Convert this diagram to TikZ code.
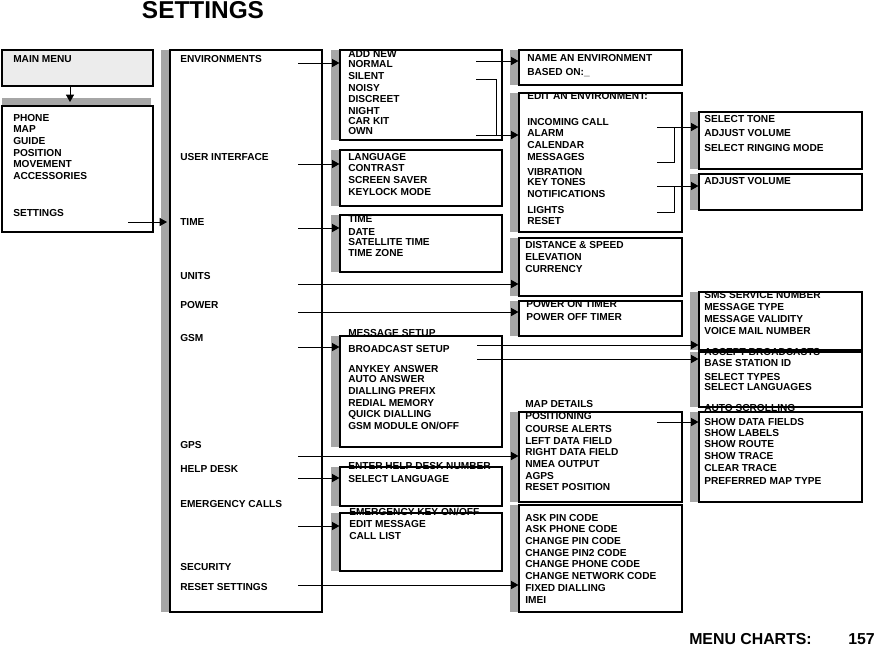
\documentclass[tikz,border=0pt]{standalone}
\usepackage{fontspec}
\setmainfont{Liberation Sans}
\usetikzlibrary{arrows.meta,fit}
\definecolor{barg}{RGB}{166,166,166}
\definecolor{menug}{RGB}{236,236,236}
\tikzset{
  item/.style={anchor=west, inner sep=0pt, font=\fontsize{7.6}{9}\selectfont\bfseries, text height=5.5pt, text depth=0pt},
  box/.style={draw, line width=0.8pt, inner sep=0pt},
  arr/.style={line width=0.75pt, -{Triangle[length=5.5pt,width=6pt]}},
  link/.style={line width=0.75pt},
  headtext/.style={font=\fontsize{18.3}{21}\selectfont\bfseries, inner sep=0pt},
  foottext/.style={font=\fontsize{11.9}{14}\selectfont\bfseries, inner sep=0pt},
}
\newcommand\itemlist[3]{\foreach \yy/\txt [count=\k] in {#3} {\node[item] (#1-\k) at (#2,\yy) {\txt};}}
\newcommand\gbox[5]{\fill[barg] (#2-9.5,#3) rectangle (#2,#5); \node[box, fit={(#2,#3) (#4,#5)}] (#1) {};}
\begin{document}
\begin{tikzpicture}[x=0.75pt,y=-0.75pt]
\useasboundingbox (0,0) rectangle (876,647);
\fill[white] (0,0) rectangle (876,647);
% title and footer
\node[headtext] (title) at (203,10) {SETTINGS};
\node[foottext, anchor=west] (foot) at (689,639) {MENU CHARTS:};
\node[foottext, anchor=east] (page) at (875,639) {157};
% main menu
\node[box, fill=menug, fit={(2,50) (153,86)}] (mm) {};
\node[item] (mmt) at (13,59) {MAIN MENU};
\fill[barg] (2,98) rectangle (151,106);
\node[box, fit={(2,106) (153,232)}] (mlist) {};
\itemlist{ml}{13}{118/PHONE,129/MAP,141/GUIDE,153/POSITION,164/MOVEMENT,176/ACCESSORIES,213/SETTINGS}
% column 2
\gbox{c2}{170}{50}{322}{612}
\itemlist{cc}{180}{59/ENVIRONMENTS,157/USER INTERFACE,222/TIME,276/UNITS,305/POWER,338/GSM,445/GPS,469/HELP DESK,504/EMERGENCY CALLS,567/SECURITY,587/RESET SETTINGS}
% column 3
\gbox{A}{340}{50}{502}{140}
\itemlist{A}{348}{54/ADD NEW,64/NORMAL,76/SILENT,88/NOISY,99/DISCREET,111/NIGHT,121/CAR KIT,131/OWN}
\gbox{B}{340}{150}{502}{206}
\itemlist{B}{348}{157/LANGUAGE,168/CONTRAST,180/SCREEN SAVER,192/KEYLOCK MODE}
\gbox{C}{340}{215}{502}{272}
\itemlist{C}{348}{219/TIME,232/DATE,242/SATELLITE TIME,253/TIME ZONE}
\gbox{D}{340}{336}{502}{447}
\itemlist{D}{348}{333/MESSAGE SETUP,349/BROADCAST SETUP,369/ANYKEY ANSWER,379/AUTO ANSWER,391/DIALLING PREFIX,403/REDIAL MEMORY,414/QUICK DIALLING,426/{GSM MODULE ON/OFF}}
\gbox{E}{340}{467}{502}{506}
\itemlist{E}{348}{466/ENTER HELP DESK NUMBER,479/SELECT LANGUAGE}
\gbox{F}{340}{513}{502}{571}
\itemlist{F}{349}{512/{EMERGENCY KEY ON/OFF},524/EDIT MESSAGE,536/CALL LIST}
% column 4
\gbox{G}{519}{50}{682}{85}
\itemlist{G}{527}{58/NAME AN ENVIRONMENT,72/BASED ON:\_}
\gbox{H}{519}{93}{682}{232}
\itemlist{H}{527}{96/EDIT AN ENVIRONMENT:,122/INCOMING CALL,133/ALARM,145/CALENDAR,157/MESSAGES,172/VIBRATION,182/KEY TONES,194/NOTIFICATIONS,210/LIGHTS,221/RESET}
\gbox{I}{519}{238}{682}{296}
\itemlist{I}{525}{245/DISTANCE \& SPEED,257/ELEVATION,269/CURRENCY}
\gbox{J}{519}{301}{682}{336}
\itemlist{J}{526}{304/POWER ON TIMER,317/POWER OFF TIMER}
\gbox{K}{519}{412}{682}{502}
\itemlist{K}{525}{404/MAP DETAILS,416/POSITIONING,429/COURSE ALERTS,441/LEFT DATA FIELD,452/RIGHT DATA FIELD,464/NMEA OUTPUT,476/AGPS,487/RESET POSITION}
\gbox{L}{519}{505}{682}{612}
\itemlist{L}{525}{518/ASK PIN CODE,529/ASK PHONE CODE,541/CHANGE PIN CODE,553/CHANGE PIN2 CODE,564/CHANGE PHONE CODE,576/CHANGE NETWORK CODE,588/FIXED DIALLING,600/IMEI}
% column 5
\gbox{M}{699}{112}{862}{169}
\itemlist{M}{704}{119/SELECT TONE,133/ADJUST VOLUME,148/SELECT RINGING MODE}
\gbox{N}{699}{174}{862}{210}
\itemlist{N}{704}{181/ADJUST VOLUME}
\gbox{O}{699}{292}{862}{350}
\itemlist{O}{704}{295/SMS SERVICE NUMBER,307/MESSAGE TYPE,319/MESSAGE VALIDITY,331/VOICE MAIL NUMBER}
\gbox{P}{699}{352}{862}{407}
\itemlist{P}{704}{352/ACCEPT BROADCASTS,363/BASE STATION ID,377/SELECT TYPES,387/SELECT LANGUAGES}
\gbox{Q}{699}{412}{862}{502}
\itemlist{Q}{704}{408/AUTO SCROLLING,422/SHOW DATA FIELDS,433/SHOW LABELS,444/SHOW ROUTE,456/SHOW TRACE,468/CLEAR TRACE,481/PREFERRED MAP TYPE}
% connectors: main menu
\coordinate (dn) at (70,102);
\draw[arr] (dn |- mm.south) -- (dn);
\coordinate (s0) at (128,222);
\coordinate (s0t) at (167,222);
\draw[arr] (s0) -- (s0t);
% column 2 outputs
\coordinate (a1) at (298,63);
\coordinate (a2) at (298,164);
\coordinate (a3) at (298,228);
\coordinate (a4) at (298,284);
\coordinate (a5) at (298,312);
\coordinate (a6) at (298,347);
\coordinate (a7) at (298,456);
\coordinate (a8) at (298,478);
\coordinate (a9) at (298,526);
\coordinate (a10) at (298,585);
\draw[arr] (a1) -- (a1 -| A.west);
\draw[arr] (a2) -- (a2 -| B.west);
\draw[arr] (a3) -- (a3 -| C.west);
\draw[arr] (a4) -- (a4 -| I.west);
\draw[arr] (a5) -- (a5 -| J.west);
\draw[arr] (a6) -- (a6 -| D.west);
\draw[arr] (a7) -- (a7 -| K.west);
\draw[arr] (a8) -- (a8 -| E.west);
\draw[arr] (a9) -- (a9 -| F.west);
\draw[arr] (a10) -- (a10 -| L.west);
% environments box
\coordinate (n1) at (476,61);
\draw[arr] (n1) -- (n1 -| G.west);
\coordinate (n2) at (476,79);
\coordinate (n3) at (476,135);
\draw[link] (n2) -- ++(20,0) |- (n3);
\draw[arr] (n3) -- (n3 -| H.west);
% edit environment box
\coordinate (h1) at (657,127);
\coordinate (h2) at (657,162);
\draw[link] (h2) -- ++(17,0) |- (h1);
\draw[arr] (h1) -- (h1 -| M.west);
\coordinate (h3) at (657,186);
\coordinate (h4) at (657,212);
\draw[link] (h4) -- ++(17,0) |- (h3);
\draw[arr] (h3) -- (h3 -| N.west);
% GSM box
\coordinate (g1) at (477,345);
\coordinate (g2) at (477,359);
\draw[arr] (g1) -- (g1 -| O.west);
\draw[arr] (g2) -- (g2 -| P.west);
% map box
\coordinate (k1) at (657,422);
\draw[arr] (k1) -- (k1 -| Q.west);
\end{tikzpicture}
\end{document}
